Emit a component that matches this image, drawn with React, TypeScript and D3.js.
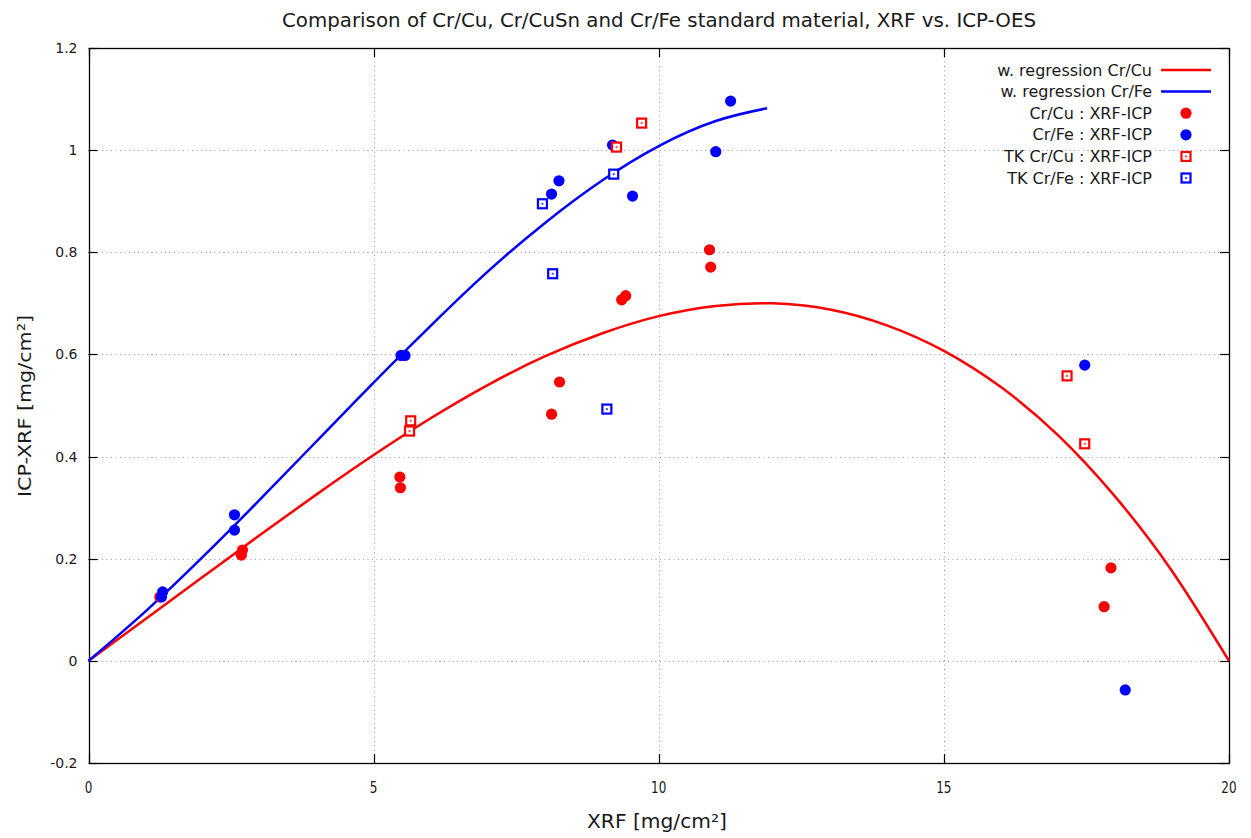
import React from 'react';
import * as d3 from 'd3';

const W = 1251, H = 838;

// measured data points
const crCuX = [1.25, 2.70, 2.68, 5.46, 5.47, 8.12, 8.26, 9.35, 9.42, 10.89, 10.91, 17.93, 17.81];
const crCuY = [0.125, 0.217, 0.207, 0.360, 0.339, 0.483, 0.546, 0.707, 0.715, 0.805, 0.771, 0.182, 0.106];
const crFeX = [1.30, 1.28, 2.56, 2.56, 5.48, 5.55, 8.12, 8.25, 9.19, 9.54, 11.00, 11.26, 17.47, 18.18];
const crFeY = [0.135, 0.125, 0.286, 0.256, 0.598, 0.598, 0.914, 0.940, 1.010, 0.910, 0.997, 1.096, 0.579, -0.057];
const tkCuX = [5.65, 5.63, 9.26, 9.70, 17.16, 17.47];
const tkCuY = [0.470, 0.450, 1.006, 1.053, 0.558, 0.425];
const tkFeX = [7.96, 8.14, 9.09, 9.21];
const tkFeY = [0.895, 0.758, 0.493, 0.953];

// regression curves
const regCuX = [0, 1, 2, 3, 4, 5, 6, 7, 8, 9, 10, 11, 12, 13, 14, 15, 16, 17, 18, 19, 20];
const regCuY = [0, 0.082, 0.164, 0.246, 0.326, 0.403, 0.475, 0.540, 0.596, 0.641, 0.675, 0.695, 0.700, 0.688, 0.657, 0.607, 0.536, 0.442, 0.322, 0.176, 0];
const regFeX = [0, 1, 2, 3, 4, 5, 6, 7, 8, 9, 10, 11, 11.9];
const regFeY = [0, 0.097, 0.203, 0.315, 0.430, 0.545, 0.656, 0.762, 0.857, 0.940, 1.008, 1.057, 1.082];

const xTicks = [0, 5, 10, 15, 20];
const yTicks = [-0.2, 0, 0.2, 0.4, 0.6, 0.8, 1, 1.2];
const yTickLabels = ['-0.2', '0', '0.2', '0.4', '0.6', '0.8', '1', '1.2'];
const legendLabels = ['w. regression Cr/Cu', 'w. regression Cr/Fe', 'Cr/Cu : XRF-ICP', 'Cr/Fe : XRF-ICP', 'TK Cr/Cu : XRF-ICP', 'TK Cr/Fe : XRF-ICP'];

const RED = '#ff0000', BLUE = '#0000ff';
const L = 88.5, R = 1229, T = 48, B = 763;

const x = d3.scaleLinear().domain([0, 20]).range([L, R]);
const y = d3.scaleLinear().domain([-0.2, 1.2]).range([B, T]);

const line = d3.line<[number, number]>().x(d => x(d[0])).y(d => y(d[1])).curve(d3.curveNatural);

const font = "'DejaVu Sans', Verdana, sans-serif";
const textColor = '#1a1a1a';

function Square({ cx, cy, color }: { cx: number; cy: number; color: string }) {
  return (
    <g>
      <rect x={cx - 4.5} y={cy - 4.5} width={9} height={9} fill="#fff" stroke={color} strokeWidth={2.2} />
      <rect x={cx - 1} y={cy - 1} width={2} height={2} fill={color} opacity={0.7} />
    </g>
  );
}

export default function App() {
  const cuPts = regCuX.map((v, i) => [v, regCuY[i]] as [number, number]);
  const fePts = regFeX.map((v, i) => [v, regFeY[i]] as [number, number]);
  const tickLen = 9;
  const legY = (i: number) => 70 + i * 21.6;
  const px = (v: number) => Math.round(x(v)) + 0.5;
  const py = (v: number) => Math.round(y(v)) + 0.5;
  return (
    <svg width={W} height={H} style={{ position: 'absolute', left: 0, top: 0, display: 'block', background: '#fff' }}>
      <rect x={0} y={0} width={W} height={H} fill="#fff" />
      {/* grid */}
      <g stroke="#9a9a9a" strokeWidth={1} strokeDasharray="1,3.5">
        {yTicks.filter(t => t > -0.2 && t < 1.2).map(t => (
          <line key={'gy' + t} x1={L} x2={R} y1={py(t)} y2={py(t)} />
        ))}
        {xTicks.filter(t => t > 0 && t < 20).map(t => (
          <line key={'gx' + t} x1={px(t)} x2={px(t)} y1={T} y2={B} />
        ))}
      </g>
      {/* ticks */}
      <g stroke="#000" strokeWidth={1.2}>
        {yTicks.map(t => (
          <g key={'ty' + t}>
            <line x1={L} x2={L + tickLen} y1={py(t)} y2={py(t)} />
            <line x1={R} x2={R - tickLen} y1={py(t)} y2={py(t)} />
          </g>
        ))}
        {xTicks.map(t => (
          <g key={'tx' + t}>
            <line x1={px(t)} x2={px(t)} y1={B} y2={B - tickLen} />
            <line x1={px(t)} x2={px(t)} y1={T} y2={T + tickLen} />
          </g>
        ))}
      </g>
      {/* frame */}
      <rect x={Math.round(L) + 0.5} y={T + 0.5} width={R - Math.round(L)} height={B - T} fill="none" stroke="#000" strokeWidth={1.3} />
      {/* tick labels */}
      <g fontFamily={font} fontSize={14} fill={textColor}>
        {yTicks.map((t, i) => (
          <text key={'ly' + t} x={L - 11} y={y(t) + 5} textAnchor="end">{yTickLabels[i]}</text>
        ))}
      </g>
      <g fontFamily={font} fontSize={15} fill={textColor}>
        {xTicks.map(t => (
          <text key={'lx' + t} x={x(t)} y={793} textAnchor="middle" transform={`translate(${x(t)},0) scale(0.8,1) translate(${-x(t)},0)`}>{t}</text>
        ))}
      </g>
      {/* axis titles */}
      <text x={657} y={828} textAnchor="middle" fontFamily={font} fontSize={19} fill={textColor} textLength={140} lengthAdjust="spacingAndGlyphs">XRF [mg/cm²]</text>
      <text x={0} y={0} transform="translate(31,406) rotate(-90)" textAnchor="middle" fontFamily={font} fontSize={18} fill={textColor} textLength={182} lengthAdjust="spacingAndGlyphs">ICP-XRF [mg/cm²]</text>
      <text x={659} y={27} textAnchor="middle" fontFamily={font} fontSize={19} fill={textColor} textLength={754} lengthAdjust="spacingAndGlyphs">Comparison of Cr/Cu, Cr/CuSn and Cr/Fe standard material, XRF vs. ICP-OES</text>
      {/* curves */}
      <path d={line(cuPts) || ''} fill="none" stroke={RED} strokeWidth={2.5} />
      <path d={line(fePts) || ''} fill="none" stroke={BLUE} strokeWidth={2.5} />
      {/* points */}
      {crCuX.map((v, i) => <circle key={'cu' + i} cx={x(v)} cy={y(crCuY[i])} r={5.6} fill={RED} />)}
      {crFeX.map((v, i) => <circle key={'fe' + i} cx={x(v)} cy={y(crFeY[i])} r={5.6} fill={BLUE} />)}
      {tkCuX.map((v, i) => <Square key={'tc' + i} cx={x(v)} cy={y(tkCuY[i])} color={RED} />)}
      {tkFeX.map((v, i) => <Square key={'tf' + i} cx={x(v)} cy={y(tkFeY[i])} color={BLUE} />)}
      {/* legend */}
      <g fontFamily={font} fontSize={16} fill={textColor}>
        {legendLabels.map((lab, i) => (
          <text key={'lg' + i} x={1152} y={legY(i) + 5.5} textAnchor="end">{lab}</text>
        ))}
      </g>
      <line x1={1161} x2={1211} y1={legY(0)} y2={legY(0)} stroke={RED} strokeWidth={2.5} />
      <line x1={1161} x2={1211} y1={legY(1)} y2={legY(1)} stroke={BLUE} strokeWidth={2.5} />
      <circle cx={1186} cy={legY(2)} r={5.6} fill={RED} />
      <circle cx={1186} cy={legY(3)} r={5.6} fill={BLUE} />
      <Square cx={1186} cy={legY(4)} color={RED} />
      <Square cx={1186} cy={legY(5)} color={BLUE} />
    </svg>
  );
}
